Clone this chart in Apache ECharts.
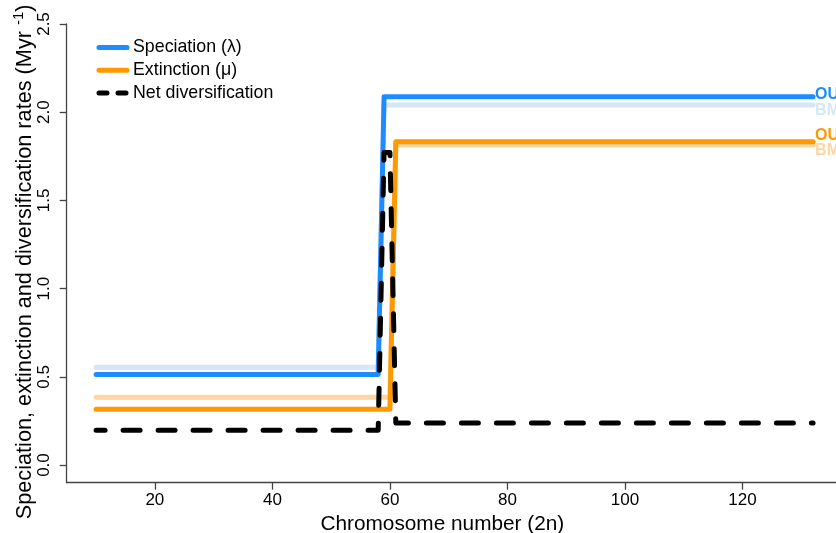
<!DOCTYPE html>
<html>
<head>
<meta charset="utf-8">
<script src="https://cdn.jsdelivr.net/npm/echarts@6/dist/echarts.min.js"></script>
<style>html,body{margin:0;padding:0;background:#fff}#c{width:836px;height:533px}</style>
</head>
<body>
<div id="c"></div>
<script>
// Step curves (x = chromosome number, y = rate)
const specOU_x = [10, 58, 59, 132];
const specOU_y = [0.514, 0.514, 2.088, 2.088];
const specBM_x = [10, 58, 59, 132];
const specBM_y = [0.554, 0.554, 2.041, 2.041];
const extOU_x = [10, 60, 61, 132];
const extOU_y = [0.316, 0.316, 1.833, 1.833];
const extBM_x = [10, 60, 61, 132];
const extBM_y = [0.384, 0.384, 1.814, 1.814];
const net_x = [10, 58, 59, 60, 61, 132];
const net_y = [0.198, 0.198, 1.772, 1.772, 0.238, 0.238];

const xTicks = [20, 40, 60, 80, 100, 120];
const yTicks = [0, 0.5, 1, 1.5, 2, 2.5];
const legendNames = ['Speciation (λ)', 'Extinction (μ)', 'Net diversification'];

const BLUE = '#1E8CFF', LBLUE = '#D5E7F6', ORANGE = '#FF9900', LORANGE = '#FFD6A3';
const FONT = 'Liberation Sans, Arial, sans-serif';

const pairs = (xs, ys) => xs.map((x, i) => [x, ys[i]]);

function lineSeries(name, xs, ys, color, label, labelColor, offY, extra) {
  return Object.assign({
    type: 'line', name: name, data: pairs(xs, ys),
    symbol: 'none', silent: true, animation: false,
    lineStyle: { color: color, width: 5, cap: 'round', join: 'round' },
    itemStyle: { color: color },
    endLabel: label ? {
      show: true, formatter: label, color: labelColor, fontWeight: 'bold',
      fontSize: 16, fontFamily: FONT, distance: 2, offset: [0, offY]
    } : { show: false }
  }, extra || {});
}

const chart = echarts.init(document.getElementById('c'), null, { renderer: 'canvas' });
chart.setOption({
  backgroundColor: '#fff',
  animation: false,
  grid: { left: 66.7, right: 0, top: 24, bottom: 50.3, containLabel: false, outerBoundsMode: 'none' },
  legend: {
    left: 96.5, top: 38.5, orient: 'vertical', padding: 0,
    itemWidth: 28, itemHeight: 17, itemGap: 4.7,
    data: [
      { name: legendNames[0] },
      { name: legendNames[1] },
      { name: legendNames[2], lineStyle: { type: [8, 11], dashOffset: 0 } }
    ],
    itemStyle: { opacity: 0 },
    lineStyle: { width: 5, cap: 'round' },
    textStyle: { fontSize: 17.8, fontFamily: FONT, color: '#000', padding: [0, 0, 0, 1] },
    selectedMode: false
  },
  xAxis: {
    type: 'value', min: 5, max: 135.9,
    name: 'Chromosome number (2n)', nameLocation: 'middle', nameGap: 29,
    nameTextStyle: { fontSize: 20.8, fontFamily: FONT, color: '#000', padding: [0, 18, 0, 0] },
    axisLine: { show: true, onZero: false, lineStyle: { color: '#444', width: 1.3 } },
    axisTick: { show: true, length: 7, customValues: xTicks, lineStyle: { color: '#444', width: 1.3 } },
    axisLabel: { customValues: xTicks, fontSize: 17, fontFamily: FONT, color: '#000', margin: 9 },
    splitLine: { show: false }
  },
  yAxis: {
    type: 'value', min: -0.1, max: 2.5,
    name: '{a|Speciation, extinction and diversification rates (Myr }{s|-1}{a|)}',
    nameLocation: 'middle', nameGap: 31, nameMoveOverlap: false,
    nameTextStyle: {
      fontFamily: FONT, color: '#000', padding: [0, 17, 0, 0],
      rich: {
        a: { fontSize: 21.7, fontFamily: FONT, color: '#000', verticalAlign: 'bottom', lineHeight: 26 },
        s: { fontSize: 15, fontFamily: FONT, color: '#000', verticalAlign: 'bottom', padding: [0, 0, 9, 0] }
      }
    },
    axisLine: { show: true, onZero: false, lineStyle: { color: '#444', width: 1.3 } },
    axisTick: { show: true, length: 7, customValues: yTicks, lineStyle: { color: '#444', width: 1.3 } },
    axisLabel: {
      customValues: yTicks, rotate: 90, fontSize: 17, fontFamily: FONT, color: '#000', margin: 14,
      formatter: v => v.toFixed(1)
    },
    splitLine: { show: false }
  },
  series: [
    lineSeries('BM speciation', specBM_x, specBM_y, LBLUE, 'BM', LBLUE, 6),
    lineSeries('BM extinction', extBM_x, extBM_y, LORANGE, 'BM', LORANGE, 6),
    lineSeries(legendNames[0], specOU_x, specOU_y, BLUE, 'OU', BLUE, -2),
    lineSeries(legendNames[1], extOU_x, extOU_y, ORANGE, 'OU', ORANGE, -6),
    lineSeries(legendNames[2], net_x, net_y, '#000', null, null, 0, {
      lineStyle: { color: '#000', width: 5, type: [17, 18], dashOffset: 8, cap: 'round', join: 'round' }
    })
  ]
});
</script>
</body>
</html>
